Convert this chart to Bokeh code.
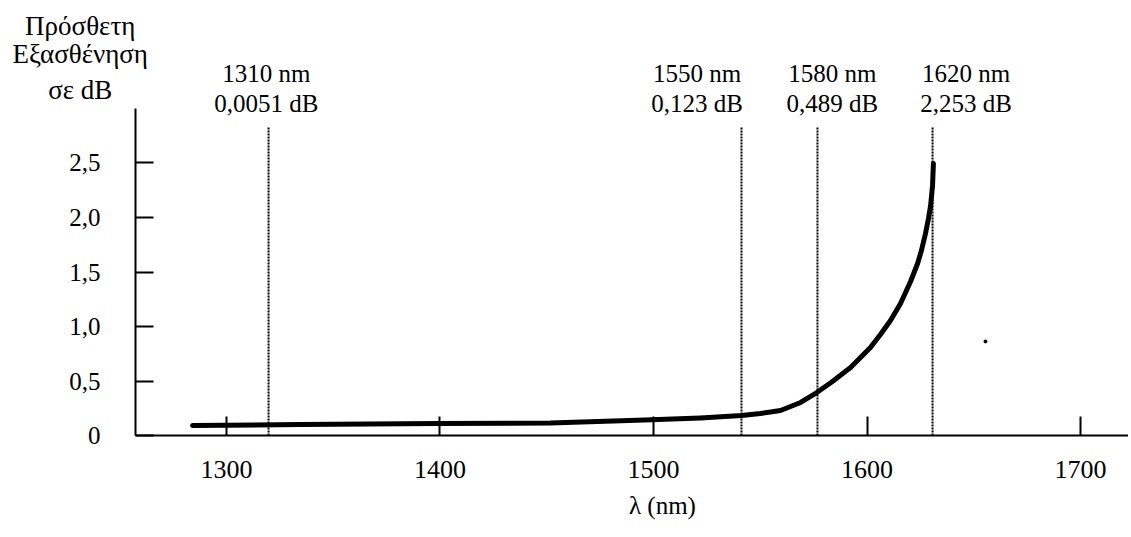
from bokeh.plotting import figure
from bokeh.models import Range1d, FixedTicker, CustomJSTickFormatter, Label, LinearAxis
from bokeh.embed import file_html
from bokeh.resources import INLINE

# ---- data ----
curve_nm = [1284.1, 1334.7, 1398.4, 1451.8, 1495.8, 1522.0, 1541.2, 1550.1, 1559.5,
            1568.9, 1576.5, 1583.8, 1592.3, 1601.6, 1606.3, 1611.0, 1615.7, 1620.4,
            1623.7, 1625.5, 1627.4, 1628.8, 1629.8, 1630.7, 1631.1]
curve_db = [0.092, 0.101, 0.110, 0.115, 0.142, 0.161, 0.183, 0.202, 0.229,
            0.303, 0.394, 0.495, 0.624, 0.807, 0.927, 1.055, 1.211, 1.413,
            1.578, 1.697, 1.853, 1.991, 2.110, 2.294, 2.495]

marker_nm = [1310, 1550, 1580, 1620]
marker_db = [0.0051, 0.123, 0.489, 2.253]
marker_line_x = [1319.7, 1541.2, 1576.8, 1630.7]   # where the dotted lines sit on the axis
marker_line_top = 2.83

x_ticks = [1300, 1400, 1500, 1600, 1700]
y_ticks = [0, 0.5, 1.0, 1.5, 2.0, 2.5]

y_title = ["Πρόσθετη", "Εξασθένηση", "σε dB"]
x_title = "λ (nm)"

stray_x = [1655.5]
stray_y = [0.863]

# ---- layout (in axis units) ----
X_AXIS_START, X_AXIS_END = 1257.38, 1722.48
Y_AXIS_TOP = 3.0
label_x = [1318.7, 1520.4, 1583.8, 1646.4]
label_y = [3.325, 3.05]
title_x = 1231.5
title_y = [3.76, 3.50, 3.17]
xtitle_x, xtitle_y = 1504.2, -0.645

FONT = "Liberation Serif"
FS = "25px"

p = figure(width=1128, height=535, output_backend="svg", toolbar_location=None,
           x_range=Range1d(1194.15, 1722.48), y_range=Range1d(-0.9174, 3.9908),
           x_axis_location=None, y_axis_location=None,
           min_border=0, min_border_left=0, min_border_right=0,
           min_border_top=0, min_border_bottom=0)
p.outline_line_color = None
p.xgrid.visible = False
p.ygrid.visible = False
p.background_fill_color = "white"

xaxis = LinearAxis(fixed_location=0, bounds=(X_AXIS_START, X_AXIS_END))
yaxis = LinearAxis(fixed_location=X_AXIS_START, bounds=(0, Y_AXIS_TOP))
p.add_layout(xaxis, "below")
p.add_layout(yaxis, "left")

for ax in (xaxis, yaxis):
    ax.axis_line_width = 2
    ax.axis_line_color = "black"
    ax.major_tick_line_width = 2
    ax.major_tick_line_color = "black"
    ax.major_tick_out = 0
    ax.minor_tick_line_color = None
    ax.major_label_text_font = FONT
    ax.major_label_text_font_size = FS
    ax.major_label_text_color = "black"

xaxis.ticker = FixedTicker(ticks=x_ticks)
xaxis.major_tick_in = 19
xaxis.major_label_standoff = 25
xaxis.major_label_text_font_size = "26px"

yaxis.ticker = FixedTicker(ticks=y_ticks)
yaxis.major_tick_in = 18
yaxis.major_label_standoff = 35
yaxis.formatter = CustomJSTickFormatter(code="""
    if (tick == 0) { return "0"; }
    return tick.toFixed(1).replace(".", ",");
""")

# dotted marker lines
p.segment(x0=marker_line_x, y0=[0] * len(marker_line_x), x1=marker_line_x,
          y1=[marker_line_top] * len(marker_line_x),
          line_color="black", line_width=2, line_dash="2 1")

# attenuation curve
p.line(curve_nm, curve_db, line_color="black", line_width=5, line_join="round", line_cap="round")

p.scatter(stray_x, stray_y, size=3, color="black")

def fmt_db(v):
    return f"{v} dB".replace(".", ",")

def add_text(txt, x, y, size=FS):
    p.add_layout(Label(x=x, y=y, text=txt, text_align="center", text_baseline="alphabetic",
                       text_font=FONT, text_font_size=size, text_color="black"))

for n, v, lx in zip(marker_nm, marker_db, label_x):
    add_text(f"{n} nm", lx, label_y[0])
    add_text(fmt_db(v), lx, label_y[1])

for txt, ty in zip(y_title, title_y):
    add_text(txt, title_x, ty, "27px")

add_text(x_title, xtitle_x, xtitle_y)

open("out.html", "w").write(file_html(p, INLINE))
